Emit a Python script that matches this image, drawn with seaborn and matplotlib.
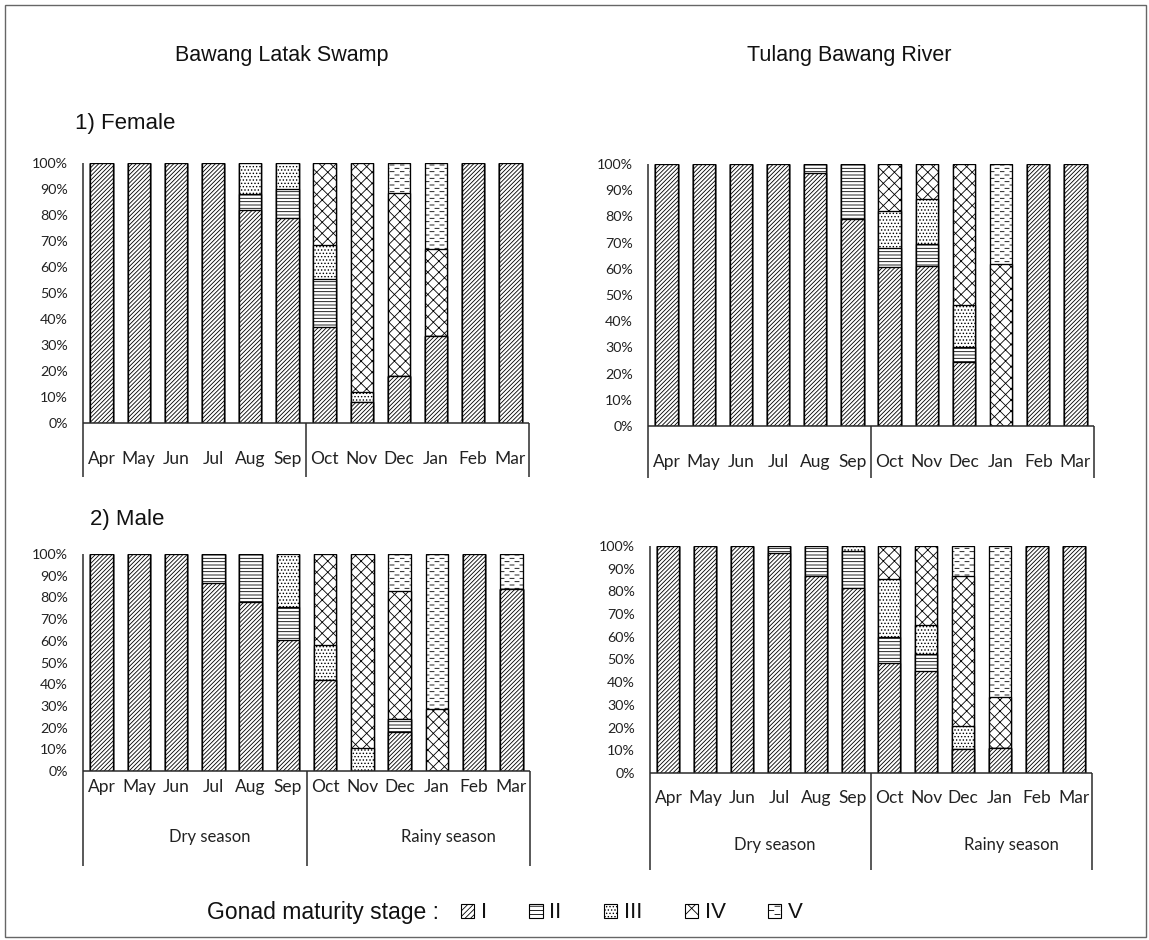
import numpy as np
import pandas as pd
import matplotlib
matplotlib.use("Agg")
import matplotlib.pyplot as plt
import matplotlib.hatch as mhatch
import matplotlib.transforms as mtransforms
from matplotlib.patches import Patch, Rectangle
from matplotlib.path import Path
from matplotlib.ticker import FuncFormatter
import seaborn as sns

# ---------------------------------------------------------------- data
months = ["Apr", "May", "Jun", "Jul", "Aug", "Sep",
          "Oct", "Nov", "Dec", "Jan", "Feb", "Mar"]
stages = ["I", "II", "III", "IV", "V"]
seasons = ["Dry season", "Rainy season"]

# share (%) of each gonad maturity stage per month
swamp_female = {
    "I":   [100, 100, 100, 100, 82, 79, 37, 8, 18, 33.5, 100, 100],
    "II":  [0, 0, 0, 0, 6, 11, 18.5, 0, 0, 0, 0, 0],
    "III": [0, 0, 0, 0, 12, 10, 13, 4, 0, 0, 0, 0],
    "IV":  [0, 0, 0, 0, 0, 0, 31.5, 88, 70.5, 33.5, 0, 0],
    "V":   [0, 0, 0, 0, 0, 0, 0, 0, 11.5, 33, 0, 0],
}
river_female = {
    "I":   [100, 100, 100, 100, 96.5, 79, 60.5, 61, 24.5, 0, 100, 100],
    "II":  [0, 0, 0, 0, 3.5, 21, 7.5, 8.5, 5.5, 0, 0, 0],
    "III": [0, 0, 0, 0, 0, 0, 14, 17, 16, 0, 0, 0],
    "IV":  [0, 0, 0, 0, 0, 0, 18, 13.5, 54, 62, 0, 0],
    "V":   [0, 0, 0, 0, 0, 0, 0, 0, 0, 38, 0, 0],
}
swamp_male = {
    "I":   [100, 100, 100, 86.5, 78, 60.5, 42, 0, 18, 0, 100, 84],
    "II":  [0, 0, 0, 13.5, 22, 15, 0, 0, 6, 0, 0, 0],
    "III": [0, 0, 0, 0, 0, 24.5, 16, 10.5, 0, 0, 0, 0],
    "IV":  [0, 0, 0, 0, 0, 0, 42, 89.5, 59, 28.5, 0, 0],
    "V":   [0, 0, 0, 0, 0, 0, 0, 0, 17, 71.5, 0, 16],
}
river_male = {
    "I":   [100, 100, 100, 97, 87, 81.5, 48.5, 45, 10.5, 11, 100, 100],
    "II":  [0, 0, 0, 3, 13, 16.5, 11.5, 7.5, 0, 0, 0, 0],
    "III": [0, 0, 0, 0, 0, 2, 25.5, 12.5, 10, 0, 0, 0],
    "IV":  [0, 0, 0, 0, 0, 0, 14.5, 35, 66.5, 22.5, 0, 0],
    "V":   [0, 0, 0, 0, 0, 0, 0, 0, 13, 66.5, 0, 0],
}


# ---------------------------------------------------------------- hatching
class DashRows(mhatch.HatchPatternBase):
    """Staggered rows of short horizontal dashes, bound to the 'O' code."""

    def __init__(self, hatch, density):
        self.num_rows = int(hatch.count("O") * density)
        self.per_row = max(self.num_rows // 3, 1)
        self.num_vertices = self.num_rows * self.per_row * 2

    def set_vertices_and_codes(self, vertices, codes):
        step_y = 1.0 / self.num_rows
        step_x = 1.0 / self.per_row
        dash = 0.4 * step_x
        k = 0
        for r in range(self.num_rows):
            y = (r + 0.5) * step_y
            off = (r % 2) * step_x / 2
            for c in range(self.per_row):
                x0 = c * step_x + off
                vertices[k] = (x0, y)
                vertices[k + 1] = (x0 + dash, y)
                codes[k] = Path.MOVETO
                codes[k + 1] = Path.LINETO
                k += 2


mhatch._hatch_types = [DashRows if t is mhatch.LargeCircles else t
                       for t in mhatch._hatch_types]

hatches = {"I": "////////", "II": "-----", "III": ".....",
           "IV": "xxx", "V": "OOOOO"}
legend_hatches = {"I": "//////", "II": "----", "III": ".....",
                  "IV": "xx", "V": "OOOO"}

# ---------------------------------------------------------------- style
sns.set_theme(style="white")
plt.rcParams["font.family"] = ["Lato", "DejaVu Sans"]
plt.rcParams["hatch.linewidth"] = 0.6
TITLE_FONT = ["Liberation Sans", "DejaVu Sans"]
LINE_COLOR = "#2b2b2b"

W, H = 1149, 940
fig = plt.figure(figsize=(W / 100, H / 100), dpi=100)


def px_axes(left, right, top, bottom):
    return fig.add_axes([left / W, 1 - bottom / H,
                         (right - left) / W, (bottom - top) / H])


def draw_panel(ax, shares, drop, month_pad, season_y=None):
    cum = np.cumsum([shares[s] for s in stages], axis=0)
    # paint from the top stage down so each lower stage covers the rest
    for k in range(len(stages) - 1, -1, -1):
        df = pd.DataFrame({"month": months, "pct": cum[k]})
        sns.barplot(data=df, x="month", y="pct", order=months,
                    color="white", saturation=1, edgecolor="black",
                    linewidth=0.95, hatch=hatches[stages[k]], width=0.6,
                    errorbar=None, ax=ax)
    ax.set_xlim(-0.5, 11.5)
    ax.set_ylim(0, 100)
    ax.set_xlabel("")
    ax.set_ylabel("")
    ax.set_yticks(np.arange(0, 101, 10))
    ax.yaxis.set_major_formatter(FuncFormatter(lambda v, _: f"{v:.0f}%"))
    ax.tick_params(axis="y", length=0, pad=11, labelsize=10.3, colors="#222")
    ax.tick_params(axis="x", length=0, pad=month_pad, labelsize=12.5,
                   colors="#222")
    for sp in ax.spines.values():
        sp.set_visible(False)
    tr = mtransforms.blended_transform_factory(ax.transData, ax.transAxes)
    kw = dict(color=LINE_COLOR, lw=1.1, transform=tr, clip_on=False,
              solid_capstyle="butt")
    ax.plot([-0.5, -0.5], [1, -drop], **kw)
    ax.plot([-0.5, 11.5], [0, 0], **kw)
    ax.plot([5.5, 5.5], [0, -drop], **kw)
    ax.plot([11.5, 11.5], [0, -drop], **kw)
    if season_y is not None:
        ax.text(2.9, -season_y, seasons[0], transform=tr, ha="center",
                va="center", fontsize=12, color="#222")
        ax.text(9.3, -season_y, seasons[1], transform=tr, ha="center",
                va="center", fontsize=12, color="#222")


ax_tl = px_axes(83, 529, 163, 423)
ax_tr = px_axes(648, 1094, 164, 426)
ax_bl = px_axes(83, 530, 554, 771)
ax_br = px_axes(650, 1092, 546, 773)

draw_panel(ax_tl, swamp_female, drop=0.208, month_pad=20)
draw_panel(ax_tr, river_female, drop=0.198, month_pad=20)
draw_panel(ax_bl, swamp_male, drop=0.438, month_pad=6, season_y=0.304)
draw_panel(ax_br, river_male, drop=0.427, month_pad=12, season_y=0.317)

# ---------------------------------------------------------------- headings
fig.text(282 / W, 1 - 55 / H, "Bawang Latak Swamp", ha="center",
         va="center", fontsize=15.5, family=TITLE_FONT, color="#111")
fig.text(849 / W, 1 - 55 / H, "Tulang Bawang River", ha="center",
         va="center", fontsize=15.5, family=TITLE_FONT, color="#111")
fig.text(75 / W, 1 - 124 / H, "1) Female", ha="left", va="center",
         fontsize=16, family=TITLE_FONT, color="#111")
fig.text(90 / W, 1 - 520 / H, "2) Male", ha="left", va="center",
         fontsize=16, family=TITLE_FONT, color="#111")

# ---------------------------------------------------------------- legend
fig.text(207 / W, 1 - 913 / H, "Gonad maturity stage :", ha="left",
         va="center", fontsize=16.5, family=TITLE_FONT, color="#111")
handles = [Patch(facecolor="white", edgecolor="black", linewidth=0.8,
                 hatch=legend_hatches[s]) for s in stages]
leg = fig.legend(handles, stages, ncol=5, frameon=False, loc="center left",
                 bbox_to_anchor=(450 / W, 1 - 913 / H), borderpad=0,
                 handlelength=0.6, handleheight=0.6, handletextpad=0.3,
                 columnspacing=1.9, prop={"family": TITLE_FONT, "size": 16})
for t in leg.get_texts():
    t.set_color("#111")

# outer frame
fig.add_artist(Rectangle((5 / W, 3 / H), 1141 / W, 932 / H,
                         transform=fig.transFigure, fill=False,
                         edgecolor="#666666", lw=1))

fig.savefig("out.png", dpi=100, facecolor="white")
